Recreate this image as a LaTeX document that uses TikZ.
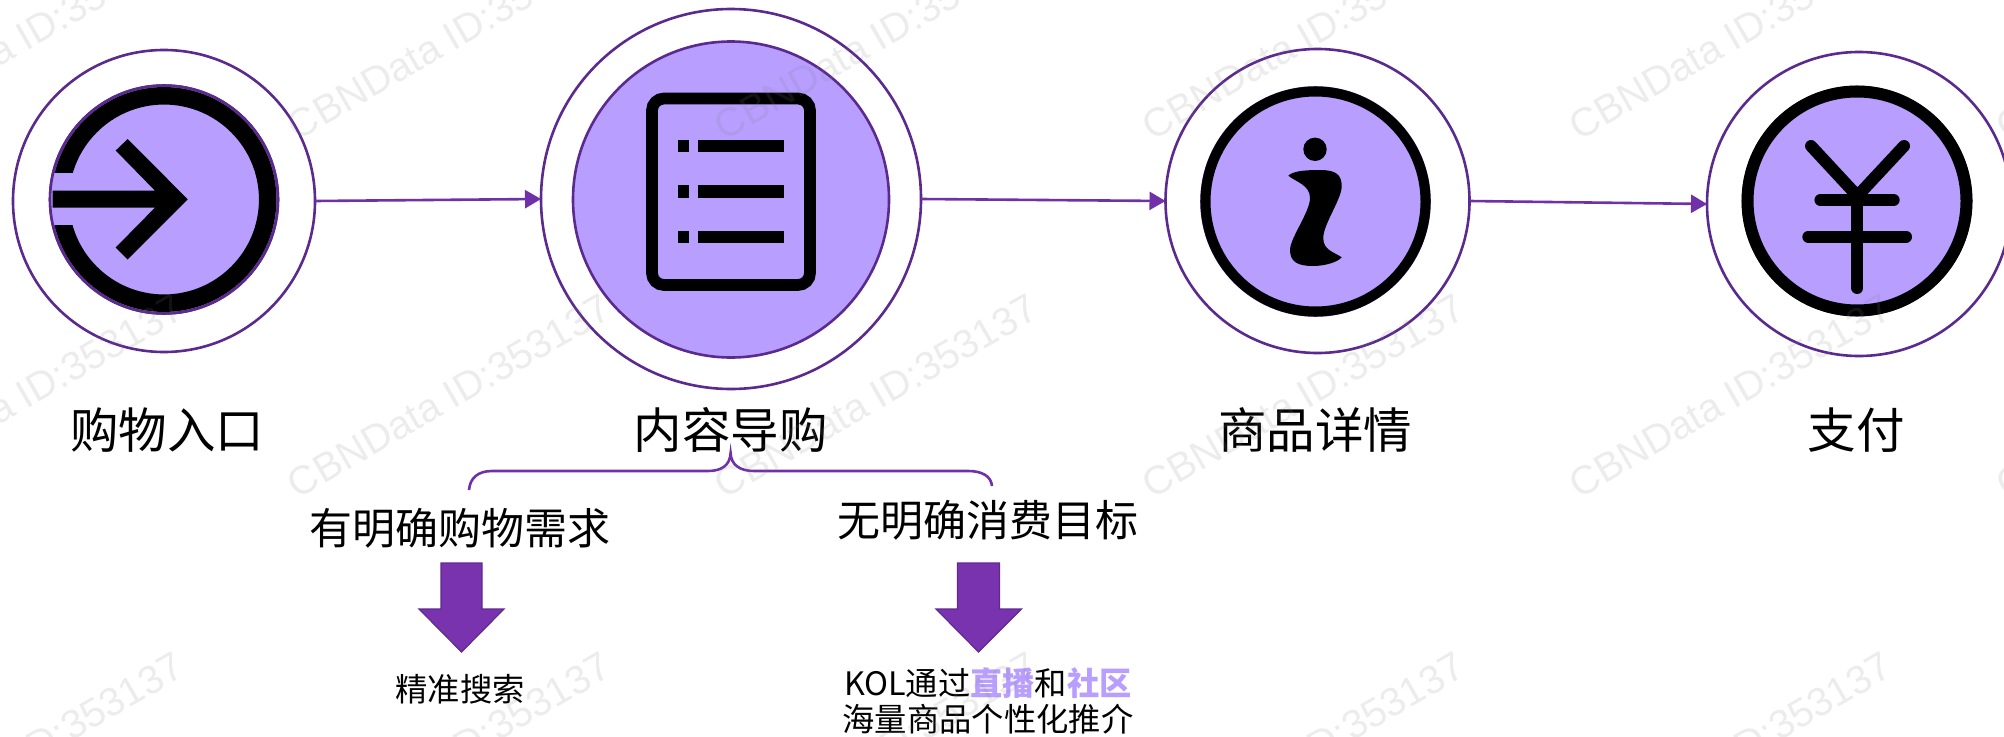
\documentclass[tikz,border=0pt]{standalone}
\usepackage{fontspec}
\setmainfont{Noto Sans CJK SC}
\newfontfamily\wmfont{Liberation Sans}
\usetikzlibrary{arrows.meta}
\definecolor{lilac}{HTML}{B89EFF}
\definecolor{ringc}{HTML}{5A2A8E}
\definecolor{flowc}{HTML}{7030A8}
\definecolor{bigc}{HTML}{7A33AE}
\definecolor{bige}{HTML}{5F2A90}
\tikzset{
  outerring/.style={circle,draw=ringc,line width=2.6pt,fill=white,inner sep=0pt,outer sep=0pt,minimum size=#1},
  innerdisc/.style={circle,draw=ringc,line width=2.6pt,fill=lilac,inner sep=0pt,outer sep=0pt,minimum size=#1},
  flow/.style={draw=flowc,line width=2.6pt,-{Triangle[length=16pt,width=18pt,fill=flowc]}},
  biglabel/.style={inner sep=0pt,font=\fontsize{48.5}{52}\selectfont},
  midlabel/.style={inner sep=0pt,font=\fontsize{43}{48}\selectfont},
  smalllabel/.style={inner sep=0pt,align=center,font=\fontsize{32.3}{36.5}\selectfont},
  bigarrow/.style={fill=bigc,draw=bige,line width=1.2pt,line join=miter},
  bracec/.style={draw=flowc,line width=2.6pt},
  yenstroke/.style={draw=black,line width=12pt,line cap=round,line join=round},
  watermark/.style={inner sep=0pt,rotate=30,text=gray,text opacity=0.15,font=\wmfont\fontsize{40}{40}\selectfont},
}
\begin{document}
\begin{tikzpicture}[x=1pt,y=-1pt]
\useasboundingbox (0,0) rectangle (2004,736);
% circles
\node[outerring=302pt] (o1) at (164,201) {};
\node[innerdisc=228pt] (i1) at (164,199.5) {};
\node[outerring=380pt] (o2) at (731,199) {};
\node[innerdisc=316pt] (i2) at (731,199.5) {};
\node[outerring=304pt] (o3) at (1317.5,201) {};
\node[innerdisc=228pt] (i3) at (1315.5,201.5) {};
\node[outerring=304pt] (o4) at (1859,204) {};
\node[innerdisc=228pt] (i4) at (1857,201) {};
% connectors
\draw[flow] (o1.east) -- (o2.west);
\draw[flow] (o2.east) -- (o3.west);
\draw[flow] (o3.east) -- (o4.west);
% icon 1
\draw[line width=17.5pt,black] (i1.center) circle[radius=103.7pt];
\begin{scope}
\clip (i1.center) circle[radius=114pt];
\fill[lilac] (40,173) rectangle (75,225);
\end{scope}
\draw[ringc,line width=2.6pt] (i1.center) circle[radius=114pt];
\fill[black] (127.7,139)--(187.7,199.3)--(127.7,259.5)--(115.7,247.5)--(155,207.6)--(52.7,207.6)--(52.7,190.7)--(155,190.7)--(115.7,150.5)--cycle;
% icon 2
\draw[black,line width=11.7pt,rounded corners=12pt] (652,98.5) rectangle (810,285);
\fill[black] (677.7,140) rectangle (689.3,152.3);
\fill[black] (698.3,140) rectangle (784.3,152.3);
\fill[black] (677.7,185.3) rectangle (689.3,197.5);
\fill[black] (698.3,185.3) rectangle (784.3,197.5);
\fill[black] (677.7,230.7) rectangle (689.3,242.8);
\fill[black] (698.3,230.7) rectangle (784.3,242.8);
% icon 3
\draw[black,line width=10pt] (i3.center) circle[radius=110pt];
\fill[black] (1315,149.3) circle[radius=11.7pt];
\fill[black] (1288.3,175.7) .. controls (1293,171) and (1305,170) .. (1320,170)
  .. controls (1335,170) and (1342,174) .. (1341.7,187)
  .. controls (1341,200) and (1323,225) .. (1323.3,238)
  .. controls (1323,250) and (1334,252) .. (1341.7,257.3)
  .. controls (1338,262) and (1325,266) .. (1313,266)
  .. controls (1298,266) and (1290,262) .. (1290,250)
  .. controls (1290,238) and (1310,212) .. (1310,198)
  .. controls (1310,185) and (1296,182) .. (1288.3,175.7) -- cycle;
% icon 4
\draw[black,line width=12pt] (i4.center) circle[radius=109.5pt];
\draw[yenstroke] (1811,146) -- (1857.4,196) -- (1904,146);
\draw[yenstroke] (1857.4,196) -- (1857.4,288);
\draw[yenstroke] (1820.4,200) -- (1893.7,200);
\draw[yenstroke] (1808.3,236.7) -- (1906,236.7);
% labels
\node[biglabel] (l1) at (167,430) {购物入口};
\node[biglabel] (l2) at (730.5,430) {内容导购};
\node[biglabel] (l3) at (1315,430) {商品详情};
\node[biglabel] (l4) at (1856,430) {支付};
% brace
\coordinate (bl) at (469,490);
\coordinate (bt) at (730.6,453);
\coordinate (br) at (992,486);
\draw[bracec] (bl) .. controls (470,478) and (478,471) .. (492,471) -- (708,471)
  .. controls (722,471) and (730,465) .. (bt)
  .. controls (731,465) and (740,471) .. (754,471) -- (968,471)
  .. controls (982,471) and (991,476) .. (br);
\node[midlabel] (m1) at (459.5,528) {有明确购物需求};
\node[midlabel] (m2) at (988,520) {无明确消费目标};
% big arrows
\draw[bigarrow] (441,563) -- (482,563) -- (482,609) -- (504,609) -- (461.5,652) -- (419,609) -- (441,609) -- cycle;
\draw[bigarrow] (957.5,563) -- (999.5,563) -- (999.5,609) -- (1021.5,609) -- (978.5,652) -- (936,609) -- (957.5,609) -- cycle;
% small
\node[smalllabel] (s1) at (460,689.5) {精准搜索};
\node[smalllabel] (s2) at (988,701) {KOL通过{\color{lilac}\bfseries 直播}和{\color{lilac}\bfseries 社区}\\海量商品个性化推介};
% watermark
\foreach \k in {-1,...,4}{
  \foreach \r in {0,1,2}{
    \pgfmathsetmacro{\wx}{449+427*\k}
    \pgfmathsetmacro{\wy}{38+358*\r}
    \node[watermark] (wm\k\r) at (\wx,\wy) {CBNData ID:353137};
  }
}
\end{tikzpicture}
\end{document}
